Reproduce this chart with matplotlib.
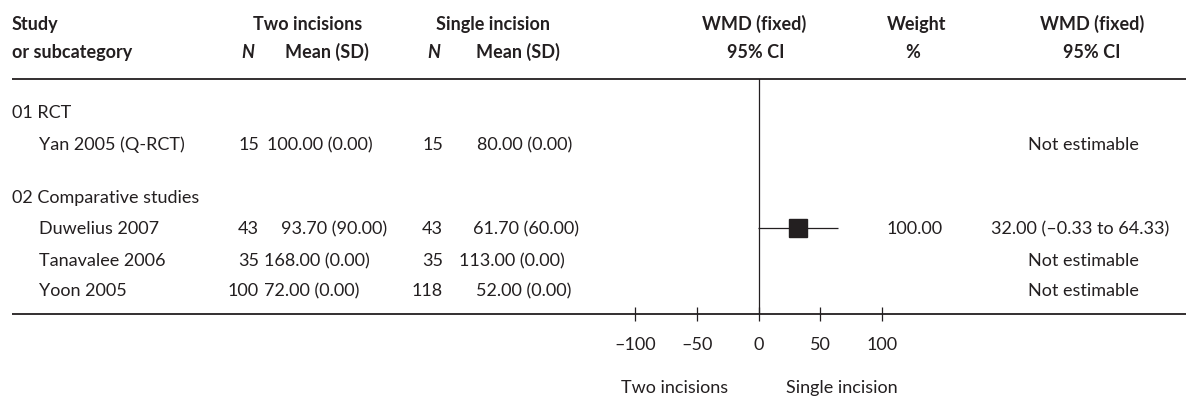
import matplotlib
matplotlib.use("Agg")
import matplotlib.pyplot as plt

plt.rcParams["font.family"] = ["Lato", "DejaVu Sans"]

# ---- data ----
group_labels = ["01 RCT", "02 Comparative studies"]
study_group = [0, 1, 1, 1]
studies = ["Yan 2005 (Q-RCT)", "Duwelius 2007", "Tanavalee 2006", "Yoon 2005"]
n_two = [15, 43, 35, 100]
mean_two = [100.00, 93.70, 168.00, 72.00]
sd_two = [0.00, 90.00, 0.00, 0.00]
n_single = [15, 43, 35, 118]
mean_single = [80.00, 61.70, 113.00, 52.00]
sd_single = [0.00, 60.00, 0.00, 0.00]
wmd = [None, 32.00, None, None]
ci_low = [None, -0.33, None, None]
ci_high = [None, 64.33, None, None]
weight = [None, 100.00, None, None]
axis_ticks = [-100, -50, 0, 50, 100]
favours = ["Two incisions", "Single incision"]

# ---- layout (pixel units of a 1186 x 401 canvas) ----
W, H = 1186, 401
INK = "#231f20"
FS = 13
group_base = [118.5, 202.5]
study_base = [150.0, 234.5, 266.0, 296.5]
cap_half = 6.5
mean1_left = [267, 281, 264, 264]
mean2_left = [477, 473, 459, 476]
top_rule, bottom_rule = 79, 314
zero_px, px_per_unit = 758.5, 1.235

fig = plt.figure(figsize=(W / 100, H / 100), dpi=100)
bg = fig.add_axes([0, 0, 1, 1])
bg.set_xlim(0, W)
bg.set_ylim(H, 0)
bg.axis("off")


def txt(x, y, s, ha="left", **kw):
    bg.text(x, y, s, ha=ha, va="baseline", fontsize=FS, color=INK, **kw)


def fmt_dash(v):
    return f"{v:.2f}".replace("-", "\u2013")


# header
hdr = dict(fontweight="bold")
txt(12, 30, "Study", **hdr)
txt(12, 58, "or subcategory", **hdr)
txt(308, 30, "Two incisions", ha="center", **hdr)
txt(248, 58, "N", ha="center", fontstyle="italic", **hdr)
txt(327, 58, "Mean (SD)", ha="center", **hdr)
txt(493, 30, "Single incision", ha="center", **hdr)
txt(434, 58, "N", ha="center", fontstyle="italic", **hdr)
txt(518, 58, "Mean (SD)", ha="center", **hdr)
txt(754, 30, "WMD (fixed)", ha="center", **hdr)
txt(756, 58, "95% CI", ha="center", **hdr)
txt(917, 30, "Weight", ha="center", **hdr)
txt(913, 58, "%", ha="center", **hdr)
txt(1092, 30, "WMD (fixed)", ha="center", **hdr)
txt(1092, 58, "95% CI", ha="center", **hdr)

# rules
bg.hlines([top_rule, bottom_rule], 12, W, color=INK, lw=1.3)

# group labels
for g, label in enumerate(group_labels):
    txt(12, group_base[g], label)

# study rows
for i, name in enumerate(studies):
    y = study_base[i]
    txt(39, y, name)
    txt(259, y, str(n_two[i]), ha="right")
    txt(mean1_left[i], y, f"{mean_two[i]:.2f} ({sd_two[i]:.2f})")
    txt(443, y, str(n_single[i]), ha="right")
    txt(mean2_left[i], y, f"{mean_single[i]:.2f} ({sd_single[i]:.2f})")
    if wmd[i] is None:
        txt(1083, y, "Not estimable", ha="center")
    else:
        txt(915, y, f"{weight[i]:.2f}", ha="center")
        txt(1080, y, f"{wmd[i]:.2f} ({fmt_dash(ci_low[i])} to {fmt_dash(ci_high[i])})",
            ha="center")

# forest panel
px_l, px_r = 590, 940
ax = fig.add_axes([px_l / W, (H - bottom_rule) / H, (px_r - px_l) / W,
                   (bottom_rule - top_rule) / H])
ax.set_xlim((px_l - zero_px) / px_per_unit, (px_r - zero_px) / px_per_unit)
ax.set_ylim(bottom_rule, top_rule)
ax.patch.set_visible(False)
for s in ax.spines.values():
    s.set_visible(False)
ax.axvline(0, color=INK, lw=0.9)
for i in range(len(studies)):
    if wmd[i] is None:
        continue
    yc = study_base[i] - cap_half
    ax.hlines(yc, ci_low[i], ci_high[i], color=INK, lw=0.9)
    ax.plot(wmd[i], yc, marker="s", ms=12.3, color=INK, mec=INK)

ax.set_yticks([])
ax.set_xticks(axis_ticks)
ax.set_xticklabels([f"{t}".replace("-", "\u2013") for t in axis_ticks],
                   fontsize=FS, color=INK)
ax.tick_params(axis="x", direction="inout", length=10.5, width=0.9,
               color=INK, pad=11)

# favours labels under the axis
bg.text(675, 393, favours[0], ha="center", va="baseline", fontsize=FS, color=INK)
bg.text(842, 393, favours[1], ha="center", va="baseline", fontsize=FS, color=INK)

fig.savefig("out.png", dpi=100)
